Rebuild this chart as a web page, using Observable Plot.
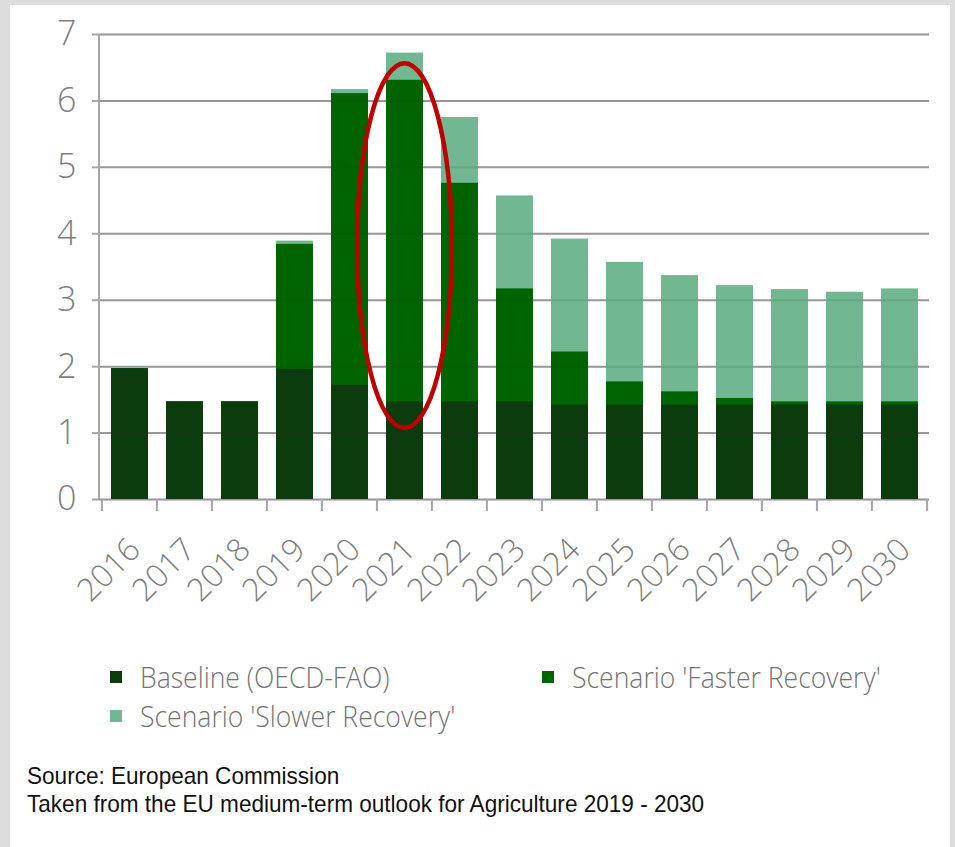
<!DOCTYPE html>
<html>
<head>
<meta charset="utf-8">
<script src="https://cdn.jsdelivr.net/npm/d3@7"></script>
<script src="https://cdn.jsdelivr.net/npm/@observablehq/plot@0.6"></script>
<style>
  html, body { margin:0; padding:0; }
  body { width:955px; height:847px; position:relative; overflow:hidden; background:#dcdcdc; }
  #panel { position:absolute; left:10px; top:5px; width:940px; height:842px; background:#fff; }
  #chart { position:absolute; left:0; top:0; }
  #legend { position:absolute; left:110px; top:657px; display:grid; grid-template-columns:432px 340px; row-gap:0; }
  .item { display:flex; align-items:center; height:39px; font-family:"Open Sans",sans-serif; font-weight:300; font-size:30px; color:#737373; white-space:nowrap; }
  .item .lbl { display:inline-block; transform:scaleX(0.885); transform-origin:left center; }
  .sw { width:12px; height:12px; margin-right:18px; flex:none; }
  #source { position:absolute; left:27px; top:762px; font-family:"Liberation Sans",Arial,sans-serif; font-size:24px; line-height:28px; color:#111; white-space:nowrap; }
  #source div { transform:scaleX(0.94); transform-origin:left center; }
</style>
</head>
<body>
<div id="panel"></div>
<div id="chart"></div>
<div id="legend"></div>
<div id="source"></div>
<script>
const years = ["2016","2017","2018","2019","2020","2021","2022","2023","2024","2025","2026","2027","2028","2029","2030"];
const baseline = [1.97,1.47,1.47,1.96,1.72,1.47,1.47,1.47,1.42,1.42,1.42,1.42,1.42,1.42,1.42];
const faster   = [1.97,1.47,1.47,3.84,6.11,6.31,4.76,3.17,2.22,1.77,1.62,1.52,1.47,1.47,1.47];
const slower   = [1.97,1.47,1.47,3.89,6.17,6.72,5.75,4.57,3.92,3.57,3.37,3.22,3.16,3.12,3.17];
const seriesNames = ["Baseline (OECD-FAO)", "Scenario 'Faster Recovery'", "Scenario 'Slower Recovery'"];
const seriesColors = ["#0c3b0d", "#006400", "#70b792"];
const yTicks = [0,1,2,3,4,5,6,7];
const sourceLines = ["Source: European Commission", "Taken from the EU medium-term outlook for Agriculture 2019 - 2030"];
// highlight annotation around 2021
const highlightYear = "2021";
const highlightRange = [1.07, 6.56];

const rows = years.map((y, i) => ({year: y, baseline: baseline[i], faster: faster[i], slower: slower[i]}));

const boundaryTicks = (index, {x, y}) => {
  const g = d3.create("svg:g");
  const step = x.step(), gap = step * x.paddingInner() / 2;
  const pos = years.map(d => x(d) - gap);
  pos.push(x(years[years.length - 1]) + x.bandwidth() + gap);
  const y0 = y(0);
  g.selectAll("line.t").data(pos).join("line")
    .attr("x1", d => d).attr("x2", d => d).attr("y1", y0).attr("y2", y0 + 12)
    .attr("stroke", "#a6a6a6").attr("stroke-width", 2);
  const x0 = x.range()[0];
  g.append("line").attr("x1", x0).attr("x2", x0).attr("y1", y(7)).attr("y2", y0)
    .attr("stroke", "#a6a6a6").attr("stroke-width", 2);
  return g.node();
};

const highlight = (index, {x, y}) => {
  const cx = x(highlightYear) + x.bandwidth() / 2;
  const cy = (y(highlightRange[0]) + y(highlightRange[1])) / 2;
  const ry = Math.abs(y(highlightRange[0]) - y(highlightRange[1])) / 2;
  const rx = x.step() * 0.86;
  return d3.create("svg:ellipse")
    .attr("cx", cx).attr("cy", cy).attr("rx", rx).attr("ry", ry)
    .attr("fill", "none").attr("stroke", "#c00000").attr("stroke-width", 4.5).node();
};

const plot = Plot.plot({
  width: 955,
  height: 640,
  marginLeft: 99,
  marginRight: 26,
  marginTop: 34,
  marginBottom: 141,
  style: {background: "transparent", fontFamily: "'Open Sans', sans-serif", overflow: "visible"},
  x: {type: "band", domain: years, paddingInner: 0.33, paddingOuter: 0.165, label: null},
  y: {domain: [0, 7], label: null},
  marks: [
    Plot.gridY(yTicks, {stroke: "#a6a6a6", strokeOpacity: 1, strokeWidth: 2}),
    Plot.barY(rows, {x: "year", y1: 0, y2: "slower", fill: seriesColors[2]}),
    Plot.barY(rows, {x: "year", y1: 0, y2: "faster", fill: seriesColors[1]}),
    Plot.barY(rows, {x: "year", y1: 0, y2: "baseline", fill: seriesColors[0]}),
    Plot.gridY(yTicks, {stroke: "#333", strokeOpacity: 0.12, strokeWidth: 2}),
    Plot.axisY(yTicks, {tickSize: 7, tickPadding: 16, tickFormat: d => String(d), stroke: "#a6a6a6", strokeWidth: 2, fill: "#7f7f7f", fontSize: 34, fontWeight: 300, label: null}),
    Plot.axisX({tickSize: 0, tickRotate: -45, textAnchor: "end", dx: 5, dy: 33, fill: "#7f7f7f", fontSize: 32, fontWeight: 300, label: null}),
    boundaryTicks,
    highlight
  ]
});
document.getElementById("chart").appendChild(plot);

const legend = document.getElementById("legend");
seriesNames.forEach((name, i) => {
  const item = document.createElement("div");
  item.className = "item";
  const sw = document.createElement("span");
  sw.className = "sw";
  sw.style.background = seriesColors[i];
  item.appendChild(sw);
  const lbl = document.createElement("span");
  lbl.className = "lbl";
  lbl.textContent = name;
  item.appendChild(lbl);
  legend.appendChild(item);
});

const src = document.getElementById("source");
sourceLines.forEach(t => { const d = document.createElement("div"); d.textContent = t; src.appendChild(d); });
</script>
</body>
</html>
